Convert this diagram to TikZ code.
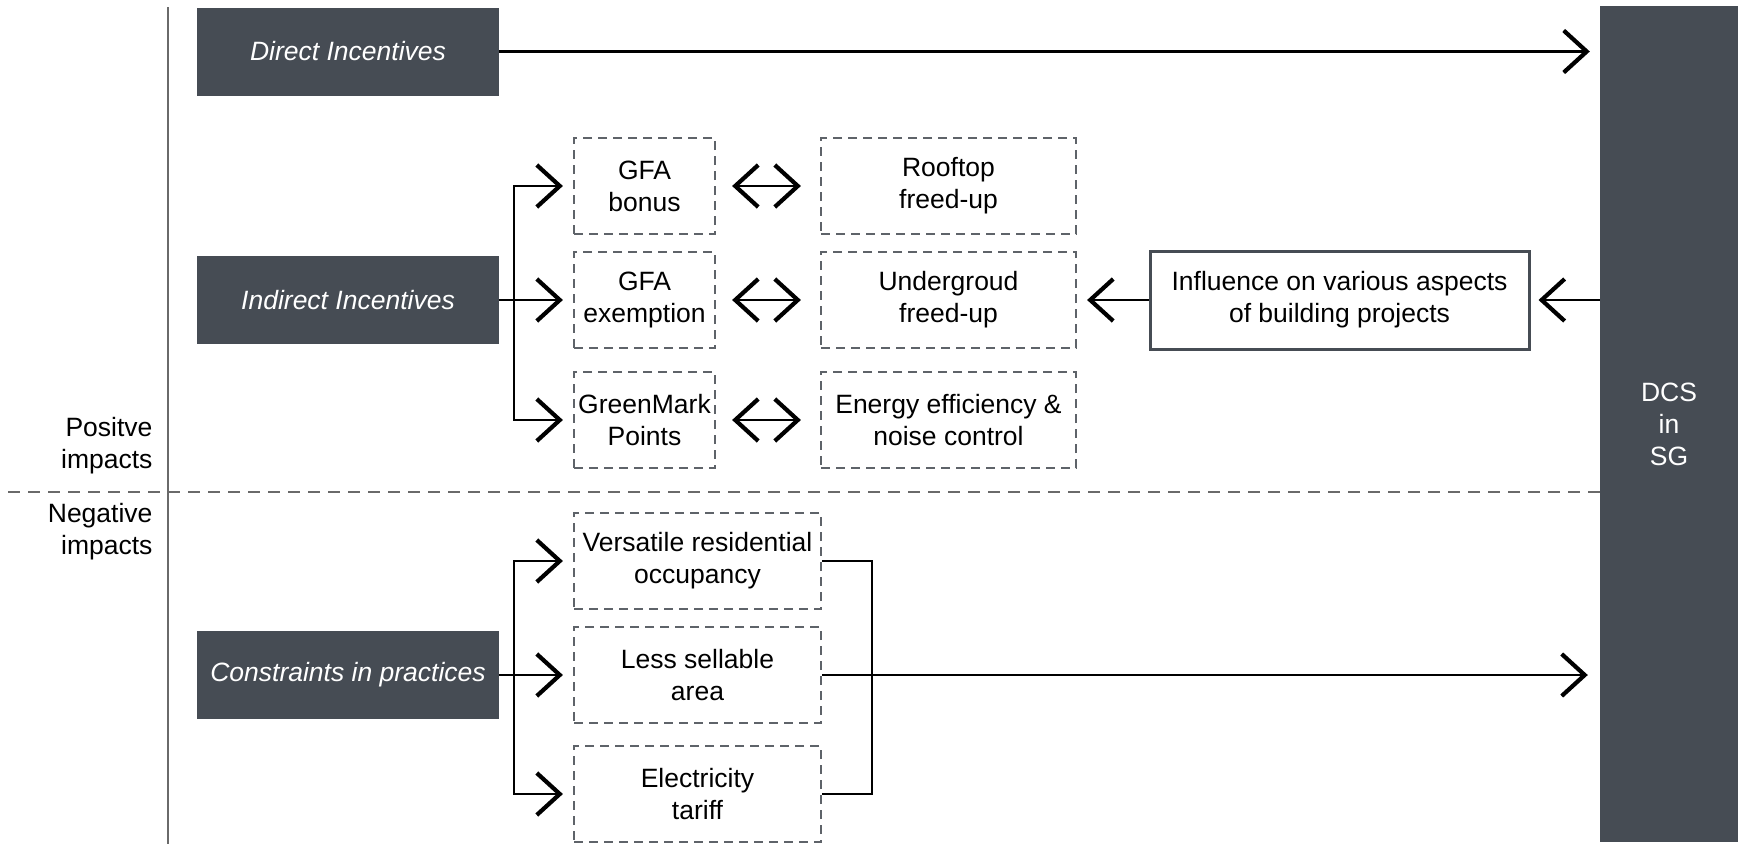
\documentclass[tikz,border=0pt]{standalone}
\usepackage{fontspec}
\setmainfont{Liberation Sans}
\usetikzlibrary{arrows.meta}
\definecolor{slate}{HTML}{464C54}
\definecolor{dashgray}{HTML}{5E6369}
\definecolor{rulegray}{HTML}{6A6A6A}
\newcommand\diagfont{\fontsize{26.5}{32}\selectfont}
\tikzset{
  darkbox/.style={fill=slate,text=white,minimum width=302pt,minimum height=88pt,font=\diagfont\itshape},
  dashbox/.style={draw=dashgray,line width=2.2pt,dash pattern=on 9pt off 6pt,minimum height=96pt,inner sep=2pt,align=center},
  barb/.tip={Straight Barb[length=23pt,width=42pt,line width=4.2pt]},
  arr/.style={line width=2.2pt,-barb,shorten >=10pt},
  darr/.style={line width=2.2pt,barb-barb,shorten <=16pt,shorten >=19pt}
}
\begin{document}
\begin{tikzpicture}[x=1pt,y=-1pt,font=\diagfont]
\useasboundingbox (0,0) rectangle (1738,844);
\draw[rulegray,line width=1.5pt] (168,7) -- (168,844);
\node[fill=slate,text=white,minimum width=138pt,minimum height=836pt,align=center] (dcs) at (1669,424) {DCS\\in\\SG};
\coordinate (split) at (8,492);
\draw[rulegray,line width=1.5pt,dash pattern=on 12pt off 8pt] (split) -- (split -| dcs.west);
\node[anchor=east,align=right] (pos) at (156,446) {Positve\\impacts};
\node[anchor=east,align=right] (neg) at (156,532) {Negative\\impacts};
\node[darkbox] (direct) at (348,51.5) {Direct Incentives};
\node[darkbox] (indirect) at (348,300) {Indirect Incentives};
\node[darkbox] (constr) at (348,675) {Constraints in practices};
\node[dashbox,minimum width=141pt] (gfab) at (644.5,186) {GFA\\bonus};
\node[dashbox,minimum width=141pt] (gfae) at (644.5,300) {GFA\\exemption};
\node[dashbox,minimum width=141pt] (gmark) at (644.5,420) {GreenMark\\Points};
\node[dashbox,minimum width=255pt] (roof) at (948.5,186) {Rooftop\\freed-up};
\node[dashbox,minimum width=255pt] (under) at (948.5,300) {Undergroud\\freed-up};
\node[dashbox,minimum width=255pt] (energy) at (948.5,420) {Energy efficiency \&\\noise control};
\node[draw=slate,line width=3pt,minimum width=379pt,minimum height=98pt,align=center] (infl) at (1339.5,300) {Influence on various aspects\\of building projects};
\node[dashbox,minimum width=247pt] (vers) at (697.5,561) {Versatile residential\\occupancy};
\node[dashbox,minimum width=247pt] (less) at (697.5,675) {Less sellable\\area};
\node[dashbox,minimum width=247pt] (elec) at (697.5,794) {Electricity\\tariff};
\draw[arr] (direct.east) -- (direct.east -| dcs.west);
\foreach \t in {gfab,gfae,gmark}
  \draw[arr] (indirect.east) -- ++(15,0) |- (\t.west);
\foreach \a/\b in {gfab/roof,gfae/under,gmark/energy}
  \draw[darr] (\a) -- (\b);
\draw[arr,shorten >=8pt] (dcs.west |- infl.east) -- (infl.east);
\draw[arr] (infl.west) -- (under.east);
\foreach \t in {vers,less,elec}
  \draw[arr] (constr.east) -- ++(15,0) |- (\t.west);
\draw[line width=2.2pt] (vers.east) -- ++(50,0) |- (elec.east);
\draw[arr,shorten >=12pt] (less.east) -- (less.east -| dcs.west);
\end{tikzpicture}
\end{document}
